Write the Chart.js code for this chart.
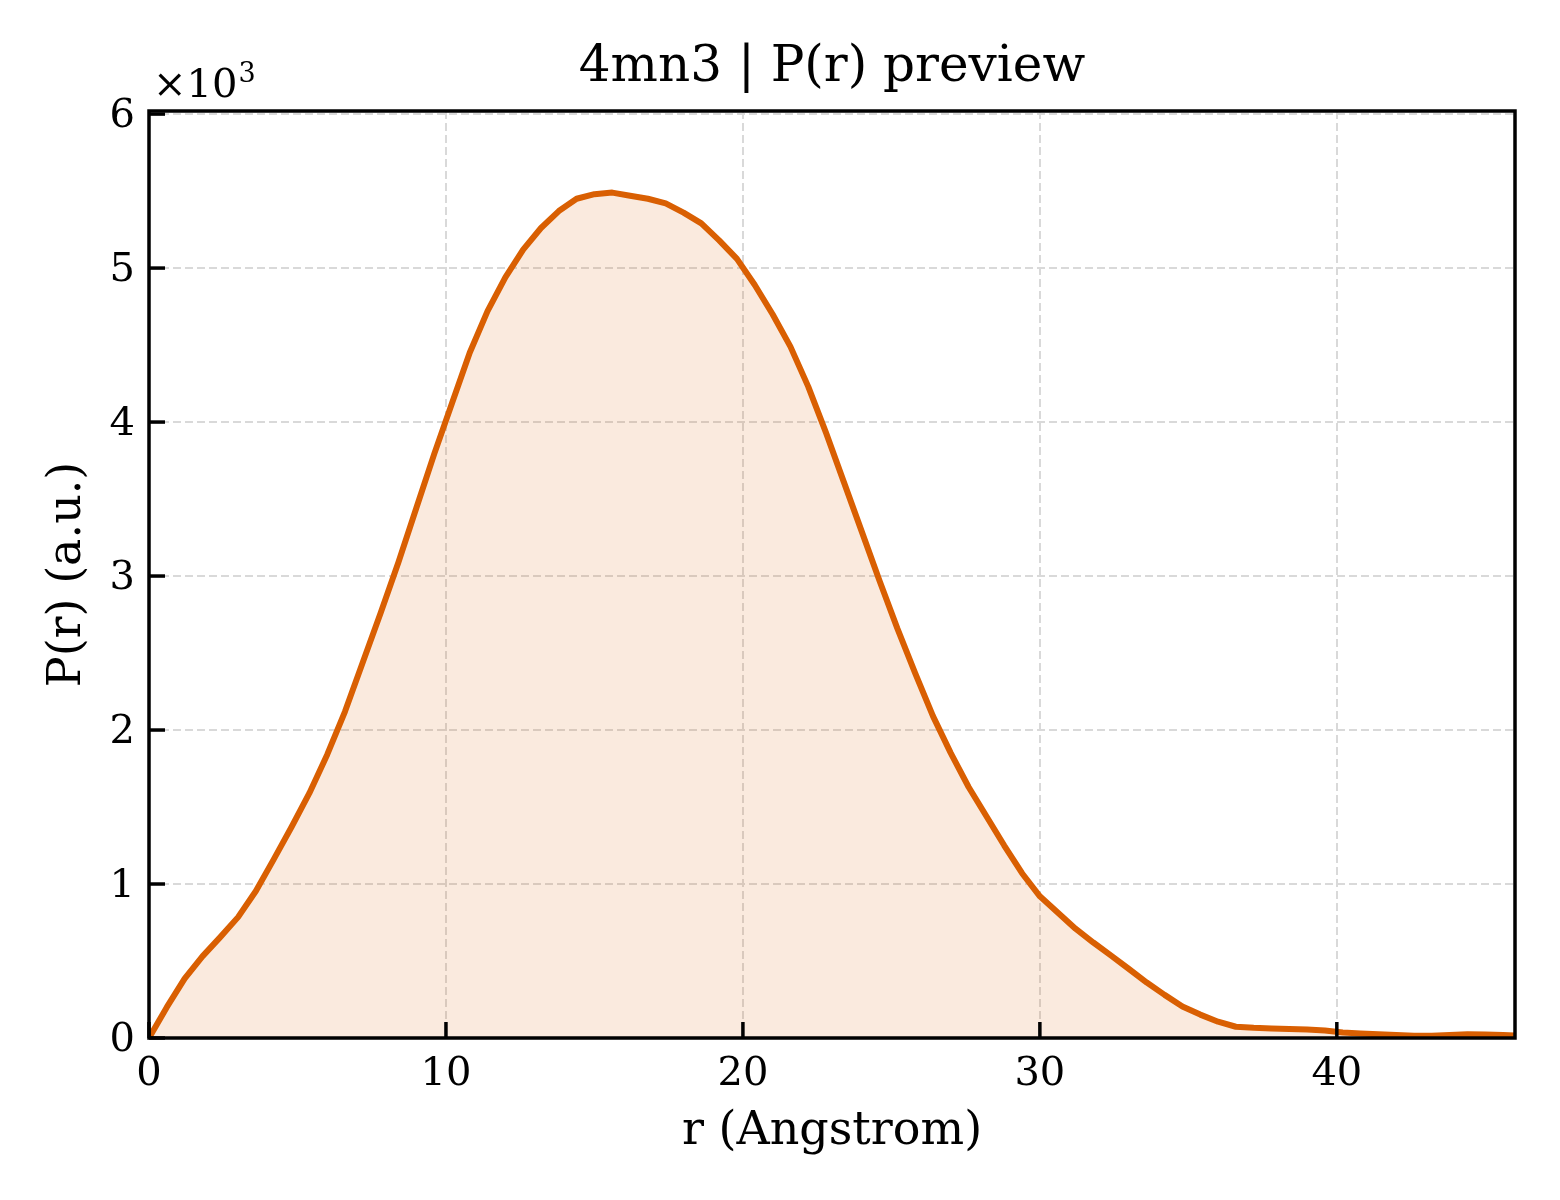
<!DOCTYPE html>
<html>
<head>
<meta charset="utf-8">
<script src="https://cdn.jsdelivr.net/npm/chart.js@4.4.1/dist/chart.umd.min.js"></script>
<style>
  html, body { margin: 0; padding: 0; background: #ffffff; }
  #wrap { width: 1560px; height: 1200px; }
</style>
</head>
<body>
<div id="wrap"><canvas id="c" width="1560" height="1200"></canvas></div>
<script>
// ---- data ----
const titleText = "4mn3 | P(r) preview";
const xLabel = "r (Angstrom)";
const yLabel = "P(r) (a.u.)";
const rValues = [0, 0.6, 1.2, 1.8, 2.4, 3.0, 3.6, 4.2, 4.8, 5.4, 6.0, 6.6, 7.2, 7.8, 8.4, 9.0, 9.6,
  10.2, 10.8, 11.4, 12.0, 12.6, 13.2, 13.8, 14.4, 15.0, 15.6, 16.2, 16.8, 17.4, 18.0, 18.6, 19.2, 19.8,
  20.4, 21.0, 21.6, 22.2, 22.8, 23.4, 24.0, 24.6, 25.2, 25.8, 26.4, 27.0, 27.6, 28.2, 28.8, 29.4,
  30.0, 30.6, 31.2, 31.8, 32.4, 33.0, 33.6, 34.2, 34.8, 35.4, 36.0, 36.6, 37.2, 37.8, 38.4, 39.0, 39.6,
  40.2, 40.8, 41.4, 42.0, 42.6, 43.2, 43.8, 44.4, 45.0, 45.6, 46.0];
const pValues = [0, 200, 385, 530, 655, 785, 955, 1160, 1370, 1590, 1840, 2120, 2440, 2760, 3090, 3440, 3790,
  4120, 4450, 4720, 4940, 5120, 5260, 5370, 5450, 5480, 5490, 5470, 5450, 5420, 5360, 5290, 5180, 5060,
  4890, 4700, 4490, 4230, 3930, 3610, 3290, 2970, 2660, 2370, 2090, 1850, 1630, 1440, 1250, 1070,
  920, 815, 710, 620, 535, 448, 360, 280, 205, 152, 106, 73, 66, 62, 58, 55, 48,
  36, 30, 24, 19, 15, 15, 20, 24, 22, 19, 17];
const xTickValues = [0, 10, 20, 30, 40];
const yTickValues = [0, 1000, 2000, 3000, 4000, 5000, 6000];
const yScaleFactor = 1000;   // axis shows values ×10^3
const offsetBase = "\u00d710";
const offsetExp = "3";

// ---- styling ----
const FONT = "'DejaVu Serif', 'Liberation Serif', serif";
const lineColor = "#d95f02";
const fillColor = "rgba(217,95,2,0.13)";
const gridColor = "#d9d9d9";

const points = rValues.map((r, i) => ({ x: r, y: pValues[i] }));

const framePlugin = {
  id: 'frame',
  afterDraw(chart) {
    const { ctx, chartArea: a, scales } = chart;
    ctx.save();
    ctx.strokeStyle = '#000';
    ctx.lineWidth = 3.5;
    const tl = 16;
    xTickValues.forEach(v => {
      const px = scales.x.getPixelForValue(v);
      ctx.beginPath(); ctx.moveTo(px, a.bottom); ctx.lineTo(px, a.bottom - tl); ctx.stroke();
    });
    yTickValues.forEach(v => {
      const py = scales.y.getPixelForValue(v);
      ctx.beginPath(); ctx.moveTo(a.left, py); ctx.lineTo(a.left + tl, py); ctx.stroke();
    });
    ctx.lineWidth = 3.5;
    ctx.strokeRect(a.left, a.top, a.right - a.left, a.bottom - a.top);
    // offset text ×10^3
    ctx.fillStyle = '#000';
    ctx.textBaseline = 'alphabetic';
    ctx.textAlign = 'left';
    ctx.font = "40px " + FONT;
    const ox = a.left + 4, oy = a.top - 14;
    ctx.fillText(offsetBase, ox, oy);
    const w = ctx.measureText(offsetBase).width;
    ctx.font = "27px " + FONT;
    ctx.fillText(offsetExp, ox + w + 1, oy - 15);
    ctx.restore();
  }
};

new Chart(document.getElementById('c'), {
  type: 'line',
  data: {
    datasets: [{
      data: points,
      borderColor: lineColor,
      borderWidth: 6,
      backgroundColor: fillColor,
      fill: 'origin',
      pointRadius: 0,
      tension: 0,
      borderJoinStyle: 'round',
      borderCapStyle: 'round'
    }]
  },
  options: {
    responsive: false,
    animation: false,
    devicePixelRatio: 1,
    layout: { padding: { left: 0, right: 45, top: 0, bottom: 0 } },
    plugins: {
      legend: { display: false },
      tooltip: { enabled: false },
      title: {
        display: true,
        text: titleText,
        fullSize: false,
        color: '#000',
        font: { family: FONT, size: 50, weight: 'normal', lineHeight: 1.2 },
        padding: { top: 38, bottom: 13 }
      }
    },
    scales: {
      x: {
        type: 'linear',
        min: 0,
        max: 46,
        afterFit(scale) { scale.height = 162; },
        afterBuildTicks(scale) { scale.ticks = xTickValues.map(v => ({ value: v })); },
        ticks: {
          includeBounds: false,
          stepSize: 10,
          color: '#000',
          padding: 13,
          maxRotation: 0,
          font: { family: FONT, size: 40 },
          callback: v => String(v)
        },
        grid: { display: true, color: gridColor, lineWidth: 2, drawTicks: false },
        border: { display: false, dash: [8, 4] },
        title: {
          display: true,
          text: xLabel,
          color: '#000',
          font: { family: FONT, size: 46, lineHeight: 1.2 },
          padding: { top: 0, bottom: 40 }
        }
      },
      y: {
        type: 'linear',
        min: 0,
        max: 6020,
        afterFit(scale) { scale.width = 149; },
        afterBuildTicks(scale) { scale.ticks = yTickValues.map(v => ({ value: v })); },
        ticks: {
          includeBounds: false,
          stepSize: 1000,
          color: '#000',
          padding: 14,
          labelOffset: 3,
          font: { family: FONT, size: 40 },
          callback: v => String(v / yScaleFactor)
        },
        grid: { display: true, color: gridColor, lineWidth: 2, drawTicks: false },
        border: { display: false, dash: [8, 4] },
        title: {
          display: true,
          text: yLabel,
          color: '#000',
          font: { family: FONT, size: 46, lineHeight: 1.2 },
          padding: { top: 40, bottom: 0 }
        }
      }
    }
  },
  plugins: [framePlugin]
});
</script>
</body>
</html>
